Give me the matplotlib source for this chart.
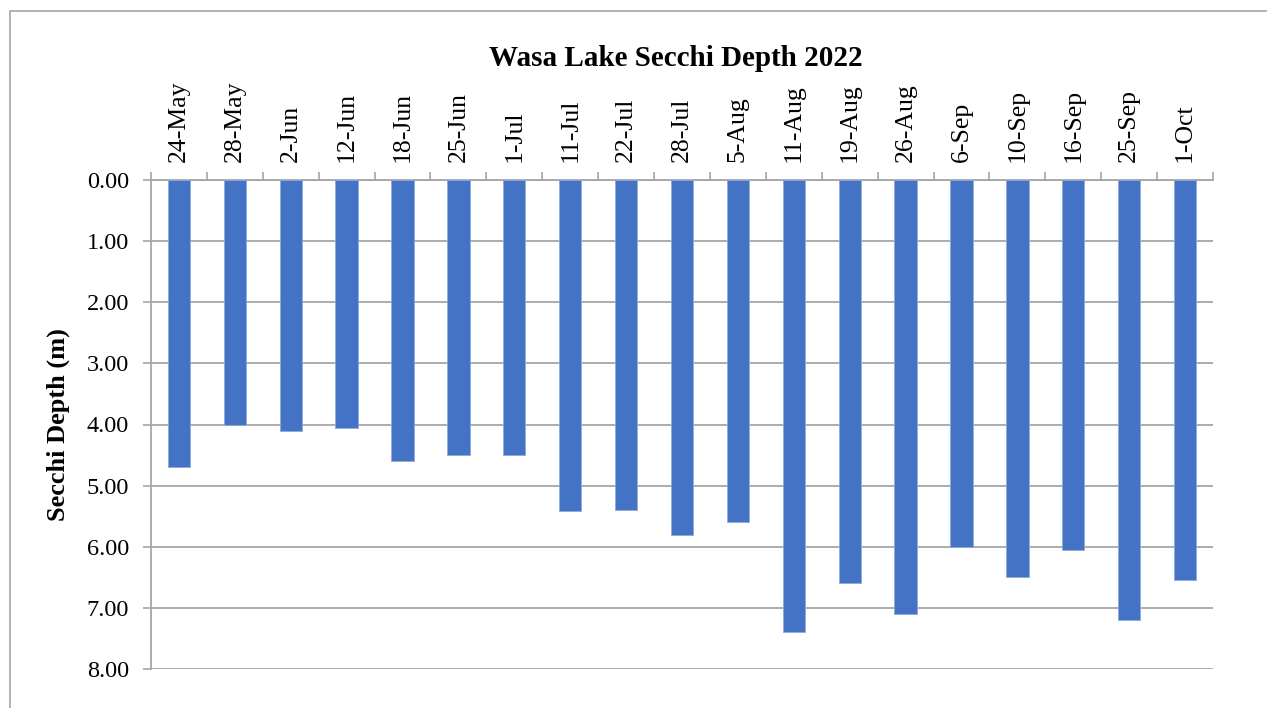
import matplotlib
matplotlib.use("Agg")
import matplotlib.pyplot as plt
from matplotlib.patches import Rectangle
from matplotlib.ticker import FixedLocator, FormatStrFormatter
import numpy as np

dates = ["24-May", "28-May", "2-Jun", "12-Jun", "18-Jun", "25-Jun", "1-Jul",
         "11-Jul", "22-Jul", "28-Jul", "5-Aug", "11-Aug", "19-Aug", "26-Aug",
         "6-Sep", "10-Sep", "16-Sep", "25-Sep", "1-Oct"]
secchi_depth = [4.70, 4.00, 4.10, 4.05, 4.60, 4.50, 4.50,
                5.42, 5.40, 5.80, 5.60, 7.40, 6.60, 7.10,
                6.00, 6.50, 6.05, 7.20, 6.55]

plt.rcParams["font.family"] = ["Liberation Serif", "DejaVu Serif"]

W, H = 1267, 708
fig = plt.figure(figsize=(W / 100, H / 100), dpi=100)

# chart-area frame (open on the right and bottom edges)
fig.patches.append(Rectangle((10 / W, -0.05), 1.2, 1 - 11 / H + 0.05,
                             transform=fig.transFigure, fill=False,
                             edgecolor="#A6A6A6", linewidth=1.2))

ax = fig.add_axes([151 / W, 1 - 669 / H, (1213 - 151) / W, (669 - 180) / H])

x = np.arange(len(dates))
ax.bar(x, secchi_depth, width=0.4, color="#4472C4",
       edgecolor="#8FAADC", linewidth=0.6, zorder=3)

ax.set_xlim(-0.5, len(dates) - 0.5)
ax.set_ylim(8, 0)

grid_color = "#A6A6A6"
ax.set_yticks(np.arange(0, 9, 1))
ax.yaxis.set_major_formatter(FormatStrFormatter("%.2f"))
ax.yaxis.grid(True, color=grid_color, linewidth=1.3, zorder=0)
ax.set_axisbelow(True)

ax.xaxis.tick_top()
ax.set_xticks(x)
ax.set_xticklabels(dates, rotation=90, fontsize=18.5)
ax.xaxis.set_minor_locator(FixedLocator(np.arange(-0.5, len(dates), 1)))
ax.tick_params(axis="x", which="major", length=0, pad=13)
ax.tick_params(axis="x", which="minor", length=6, width=1.2,
               color=grid_color, direction="out", top=True, bottom=False)
ax.tick_params(axis="y", which="major", length=6, width=1.2,
               color=grid_color, direction="out", labelsize=17.5, pad=10)

for side in ["right", "bottom"]:
    ax.spines[side].set_visible(False)
for side in ["top", "left"]:
    ax.spines[side].set_color(grid_color)
    ax.spines[side].set_linewidth(1.3)

ax.set_ylabel("Secchi Depth (m)", fontsize=19, fontweight="bold", labelpad=12)

fig.text(676 / W, 1 - 58 / H, "Wasa Lake Secchi Depth 2022",
         ha="center", va="center", fontsize=21, fontweight="bold")

fig.savefig("out.png", dpi=100, facecolor="white")
